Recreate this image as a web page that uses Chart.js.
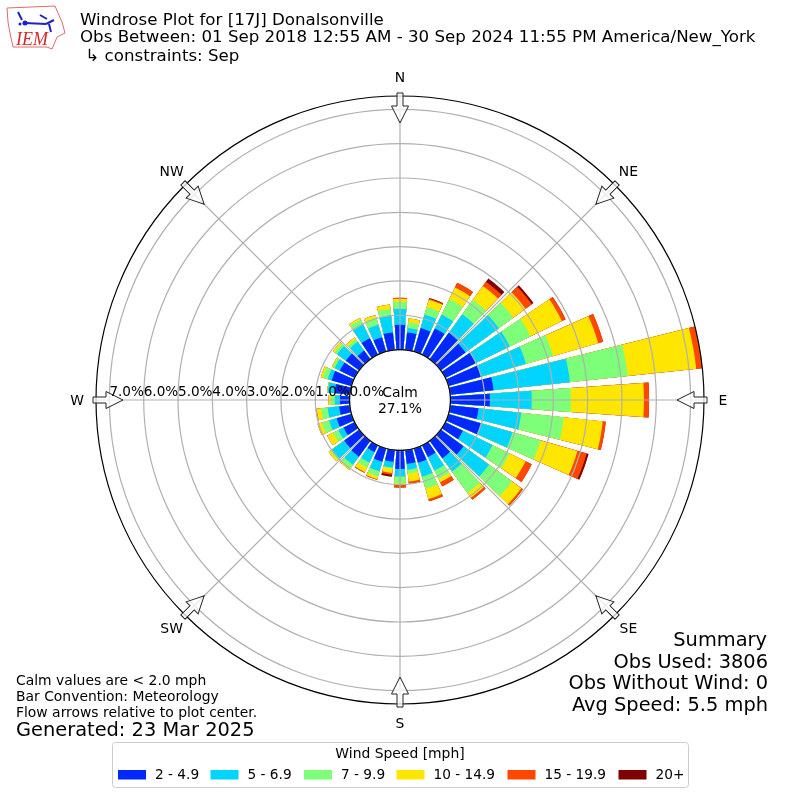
<!DOCTYPE html>
<html>
<head>
<meta charset="utf-8">
<title>Windrose</title>
<script src="https://cdn.jsdelivr.net/npm/chart.js@4/dist/chart.umd.min.js"></script>
<style>
  html, body { margin: 0; padding: 0; background: #fff; }
  canvas { display: block; }
</style>
</head>
<body>
<canvas id="rosa" width="800" height="800"></canvas>
<script>
// Direcciones de 10 en 10 grados, desde el norte en sentido horario
const direcciones = ['0','10','20','30','40','50','60','70','80','90','100','110',
  '120','130','140','150','160','170','180','190','200','210','220','230',
  '240','250','260','270','280','290','300','310','320','330','340','350'];

// Porcentaje de observaciones por rango de velocidad
const v2a5 = [.72,.51,.71,.85,.95,.89,.98,.98,1.27,1.15,.83,.98,
  .57,.82,.63,.38,.43,.40,.54,.34,.40,.22,.57,.54,
  .36,.45,.31,.28,.45,.60,.48,.48,.31,.53,.43,.51];
const v5a7 = [.47,.13,.41,.45,.67,1.20,1.11,1.37,2.24,1.22,1.25,.96,
  .96,.92,.48,.44,.43,.17,.22,.17,.29,.34,.29,.44,
  .17,.23,.34,.15,.20,.12,.17,.32,.32,.45,.38,.50];
const v7a10 = [.20,.16,.23,.50,.52,.52,.67,.82,1.69,1.14,1.25,.85,
  .55,.82,.77,.27,.36,.11,.20,.03,.15,.16,.12,.06,
  .17,.22,.19,.12,.01,.15,.06,.09,.09,.15,.22,.19];
const v10a15 = [.09,.12,.22,.38,.50,.44,1.02,1.37,2.01,2.13,1.14,1.12,
  .52,.34,.17,.11,.31,.24,.04,.13,.09,.15,.06,.06,
  .19,.13,.13,.06,.01,.06,.03,.06,.06,.06,.08,.13];
const v15a20 = [.03,0,.03,.15,.15,.23,.12,.15,.17,.15,.09,.28,
  .20,.06,.07,.13,.07,.06,.08,.05,.02,.02,0,0,
  0,0,.01,0,0,0,0,0,0,0,0,0];
const v20mas = [0,0,.02,0,.12,.06,0,0,0,0,0,.06,
  0,0,0,0,0,0,0,.06,0,0,0,0,
  0,0,0,0,0,0,0,0,0,0,0,0];

const rangos = [v2a5, v5a7, v7a10, v10a15, v15a20, v20mas];
const etiquetasRango = ['2 - 4.9', '5 - 6.9', '7 - 9.9', '10 - 14.9', '15 - 19.9', '20+'];
const coloresRango = ['#0028ff', '#00d4ff', '#7dff7a', '#ffe600', '#ff4700', '#7f0000'];

const marcasRadio = [0, 1, 2, 3, 4, 5, 6, 7];
const etiquetasRadio = ['0.0%', '1.0%', '2.0%', '3.0%', '4.0%', '5.0%', '6.0%', '7.0%'];
const puntos = ['N', 'NE', 'E', 'SE', 'S', 'SW', 'W', 'NW'];

const FUENTE = '"DejaVu Sans"';

// Las barras se apilan dibujando acumulados, la primera serie queda encima
let acumulado = direcciones.map(() => 0);
const series = rangos.map((rango, i) => {
    acumulado = acumulado.map((v, j) => v + rango[j]);
    return {
        label: etiquetasRango[i],
        data: acumulado.slice(),
        backgroundColor: coloresRango[i],
        borderWidth: 0
    };
});

function texto(ctx, s, x, y, size, align, color) {
    ctx.font = size + 'px ' + FUENTE;
    ctx.textAlign = align || 'left';
    ctx.textBaseline = 'alphabetic';
    ctx.fillStyle = color || '#000';
    ctx.fillText(s, x, y);
}

function logo(ctx) {
    ctx.save();
    ctx.strokeStyle = '#e06a6a';
    ctx.lineWidth = 1;
    ctx.beginPath();
    [[7,8],[55,6],[58,13],[62,22],[65,33],[57,37],[55,42],[52,49],[47,47],[13,47],[10,33],[8,22]]
        .forEach((p, i) => i ? ctx.lineTo(p[0], p[1]) : ctx.moveTo(p[0], p[1]));
    ctx.closePath();
    ctx.stroke();
    ctx.strokeStyle = '#1a22c8';
    ctx.lineWidth = 2;
    ctx.beginPath();
    ctx.moveTo(25, 23); ctx.lineTo(46, 24);
    ctx.moveTo(46, 24); ctx.lineTo(54, 20);
    ctx.moveTo(22, 20); ctx.lineTo(18, 12);
    ctx.moveTo(40, 15); ctx.lineTo(47, 19);
    ctx.moveTo(49, 24); ctx.lineTo(51, 32);
    ctx.stroke();
    ctx.fillStyle = '#1a22c8';
    ctx.beginPath();
    ctx.arc(25, 23, 2.5, 0, Math.PI * 2);
    ctx.arc(20, 24, 1.5, 0, Math.PI * 2);
    ctx.fill();
    ctx.restore();
    ctx.font = 'italic 18px "Liberation Serif"';
    ctx.fillStyle = '#d42a2a';
    ctx.textAlign = 'left';
    ctx.fillText('IEM', 16, 45);
}

// Flecha de flujo apuntando al centro
function flecha(ctx, cx, cy, grados) {
    ctx.save();
    ctx.translate(cx, cy);
    ctx.rotate(grados * Math.PI / 180);
    ctx.beginPath();
    ctx.moveTo(-3, -307);
    ctx.lineTo(3, -307);
    ctx.lineTo(3, -294);
    ctx.lineTo(8.5, -294);
    ctx.lineTo(0, -277);
    ctx.lineTo(-8.5, -294);
    ctx.lineTo(-3, -294);
    ctx.closePath();
    ctx.fillStyle = 'rgba(255,255,255,0.75)';
    ctx.fill();
    ctx.strokeStyle = '#222';
    ctx.lineWidth = 1;
    ctx.stroke();
    ctx.restore();
}

const decoracion = {
    id: 'decoracion',
    // Barras de 8 grados dentro de cada sector de 10
    afterDatasetsUpdate(chart) {
        const margen = 1 * Math.PI / 180;
        chart.getSortedVisibleDatasetMetas().forEach(meta => {
            meta.data.forEach(arco => {
                arco.startAngle += margen;
                arco.endAngle -= margen;
            });
        });
    },
    // Hueco central para los calmos
    afterDatasetsDraw(chart) {
        const r = chart.scales.r, ctx = chart.ctx;
        ctx.save();
        ctx.fillStyle = '#fff';
        ctx.beginPath();
        ctx.arc(r.xCenter, r.yCenter, r.getDistanceFromCenterForValue(0), 0, Math.PI * 2);
        ctx.fill();
        ctx.restore();
    },
    afterDraw(chart) {
        const r = chart.scales.r, ctx = chart.ctx;
        const cx = r.xCenter, cy = r.yCenter;
        const r0 = r.getDistanceFromCenterForValue(0);
        const rMax = r.getDistanceFromCenterForValue(r.max);
        ctx.save();

        // Radios cada 45 grados
        ctx.strokeStyle = '#b0b0b0';
        ctx.lineWidth = 1.2;
        puntos.forEach((p, i) => {
            const a = i * Math.PI / 4;
            ctx.beginPath();
            ctx.moveTo(cx + r0 * Math.sin(a), cy - r0 * Math.cos(a));
            ctx.lineTo(cx + rMax * Math.sin(a), cy - rMax * Math.cos(a));
            ctx.stroke();
        });

        ctx.strokeStyle = '#000';
        ctx.lineWidth = 1.2;
        ctx.beginPath();
        ctx.arc(cx, cy, r0, 0, Math.PI * 2);
        ctx.stroke();
        ctx.beginPath();
        ctx.arc(cx, cy, rMax, 0, Math.PI * 2);
        ctx.stroke();

        puntos.forEach((p, i) => {
            const a = i * Math.PI / 4;
            flecha(ctx, cx, cy, i * 45);
            texto(ctx, p, cx + 323 * Math.sin(a), cy - 323 * Math.cos(a) + 4.5, 13.9, 'center');
        });

        // Etiquetas del eje radial, sobre el radio oeste
        etiquetasRadio.forEach((s, i) => {
            texto(ctx, s, cx - r.getDistanceFromCenterForValue(marcasRadio[i]), cy - 4, 13.6, 'left');
        });
        texto(ctx, 'Calm', cx, cy - 3, 13.9, 'center');
        texto(ctx, '27.1%', cx, cy + 13, 13.9, 'center');

        logo(ctx);
        texto(ctx, 'Windrose Plot for [17J] Donalsonville', 80, 25, 16.67);
        texto(ctx, 'Obs Between: 01 Sep 2018 12:55 AM - 30 Sep 2024 11:55 PM America/New_York', 80, 42, 16.67);
        texto(ctx, ' \u21b3 constraints: Sep', 80, 61, 16.67);

        texto(ctx, 'Summary', 767, 646, 19.4, 'right');
        texto(ctx, 'Obs Used: 3806', 768, 668, 19.4, 'right');
        texto(ctx, 'Obs Without Wind: 0', 768, 689, 19.4, 'right');
        texto(ctx, 'Avg Speed: 5.5 mph', 768, 711, 19.4, 'right');

        texto(ctx, 'Calm values are < 2.0 mph', 16, 685, 13.9);
        texto(ctx, 'Bar Convention: Meteorology', 16, 701, 13.9);
        texto(ctx, 'Flow arrows relative to plot center.', 16, 717, 13.9);
        texto(ctx, 'Generated: 23 Mar 2025', 16, 736, 19.4);

        // Leyenda
        ctx.strokeStyle = '#cccccc';
        ctx.lineWidth = 1;
        ctx.beginPath();
        ctx.roundRect(112.5, 742.5, 576, 45, 3);
        ctx.stroke();
        texto(ctx, 'Wind Speed [mph]', 400, 758, 13.9, 'center');
        const xCaja = [118, 210.5, 304, 396.5, 507.5, 618.5];
        etiquetasRango.forEach((s, i) => {
            ctx.fillStyle = coloresRango[i];
            ctx.fillRect(xCaja[i], 770, 28, 9.5);
            texto(ctx, s, xCaja[i] + 37, 779, 13.7);
        });
        ctx.restore();
    }
};

new Chart(document.getElementById('rosa'), {
    type: 'polarArea',
    data: { labels: direcciones, datasets: series },
    plugins: [decoracion],
    options: {
        responsive: false,
        animation: false,
        layout: { padding: 96 },
        plugins: { legend: { display: false }, tooltip: { enabled: false } },
        scales: {
            r: {
                min: -1.47,
                max: 7.39,
                startAngle: -5,
                afterBuildTicks(scale) {
                    scale.ticks = marcasRadio.map(v => ({ value: v }));
                },
                ticks: { display: false },
                grid: { color: '#b0b0b0', lineWidth: 1.2, z: 1 },
                angleLines: { display: false },
                pointLabels: { display: false }
            }
        }
    }
});
</script>
</body>
</html>
